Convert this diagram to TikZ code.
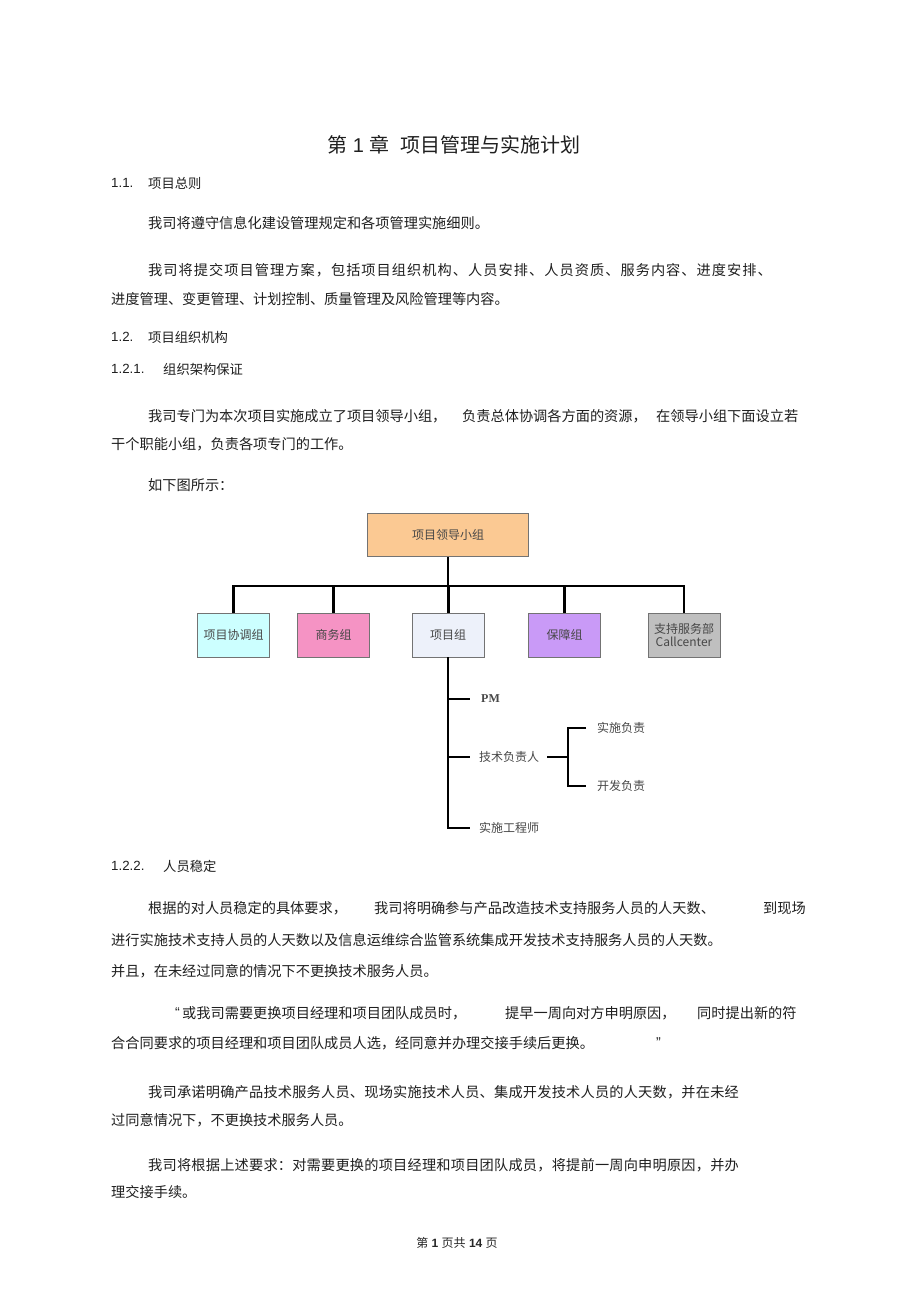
\documentclass[tikz,border=0pt]{standalone}
\usepackage{fontspec}
\setmainfont{Liberation Sans}
\newfontfamily\cjk{Noto Sans CJK SC}
\newfontfamily\pmserif{Liberation Serif}
\usetikzlibrary{positioning}

\definecolor{leadfill}{HTML}{FBC993}
\definecolor{coordfill}{HTML}{CCFFFF}
\definecolor{bizfill}{HTML}{F593C4}
\definecolor{projfill}{HTML}{EDF1FA}
\definecolor{guardfill}{HTML}{C99AF7}
\definecolor{callfill}{HTML}{BFBFBF}

\begin{document}
\begin{tikzpicture}[x=1pt, y=-1pt,
  bodytext/.style={anchor=west, inner sep=0pt, text=black!88, font=\cjk\fontsize{14.2}{17}\selectfont},
  headtext/.style={anchor=west, inner sep=0pt, text=black!88, font=\fontsize{13.3}{16}\selectfont},
  orgbox/.style={draw=black!55, line width=0.8pt, minimum width=72pt, minimum height=44pt,
    inner sep=1pt, align=center, text=black!72, font=\cjk\fontsize{12}{13.5}\selectfont},
  treetext/.style={anchor=west, inner sep=0pt, text=black!72, font=\cjk\fontsize{12}{13}\selectfont},
  trunk/.style={line width=2.6pt},
  twig/.style={line width=2pt}]
  \useasboundingbox (0,0) rectangle (920,1303);
  \fill[white] (0,0) rectangle (920,1303);

  % Chapter title
  \node[anchor=west, inner sep=0pt, text=black!88, font=\fontsize{20}{24}\selectfont] (title) at (327,145)
    {{\cjk 第} 1 {\cjk 章}\ \ {\cjk 项目管理与实施计划}};

  % 1.1
  \node[headtext] (s11) at (111,183) {1.1.};
  \node[headtext, font=\cjk\fontsize{13.3}{16}\selectfont] (s11t) at (148,183) {项目总则};
  \node[bodytext] (p1) at (148,223) {我司将遵守信息化建设管理规定和各项管理实施细则。};
  \node[bodytext] (p2a) at (148,270) {\addfontfeature{LetterSpace=7.3}我司将提交项目管理方案，包括项目组织机构、人员安排、人员资质、服务内容、进度安排、};
  \node[bodytext] (p2b) at (111,299) {进度管理、变更管理、计划控制、质量管理及风险管理等内容。};

  % 1.2 and 1.2.1
  \node[headtext] (s12) at (111,337) {1.2.};
  \node[headtext, font=\cjk\fontsize{13.3}{16}\selectfont] (s12t) at (148,337) {项目组织机构};
  \node[headtext] (s121) at (111,369) {1.2.1.};
  \node[headtext, font=\cjk\fontsize{13.3}{16}\selectfont] (s121t) at (163,369) {组织架构保证};
  \node[bodytext] (p3a) at (148,416) {我司专门为本次项目实施成立了项目领导小组，};
  \node[bodytext] (p3b) at (462,416) {负责总体协调各方面的资源，};
  \node[bodytext] (p3c) at (656,416) {在领导小组下面设立若};
  \node[bodytext] (p3d) at (111,444) {干个职能小组，负责各项专门的工作。};
  \node[bodytext] (p4) at (148,485) {如下图所示：};

  % Org chart: leading group and the five groups
  \node[orgbox, fill=leadfill, minimum width=161pt, minimum height=43pt] (lead) at (448,535) {项目领导小组};
  \node[orgbox, fill=coordfill] (coord) at (233.5,635) {项目协调组};
  \node[orgbox, fill=bizfill] (biz) at (333.6,635) {商务组};
  \node[orgbox, fill=projfill] (proj) at (448.2,635) {项目组};
  \node[orgbox, fill=guardfill] (guard) at (564.7,635) {保障组};
  \node[orgbox, fill=callfill] (call) at (684,635) {支持服务部\\Callcenter};

  \coordinate (bus) at (0,586);
  \draw[trunk] (lead.south) -- (lead.south |- bus);
  \draw[trunk] (coord.north) -- (coord.north |- bus) -- (call.north |- bus) -- (call.north);
  \foreach \g in {biz,proj,guard}
    \draw[trunk] (\g.north) -- (\g.north |- bus);

  % Members of the project group
  \node[treetext, font=\pmserif\bfseries\fontsize{12}{13}\selectfont] (pm) at (481,699) {PM};
  \node[treetext] (tech) at (479,757) {技术负责人};
  \node[treetext] (eng) at (479,828) {实施工程师};
  \node[treetext] (impl) at (597,728) {实施负责};
  \node[treetext] (dev) at (597,786) {开发负责};

  \coordinate (tick) at (470,0);
  \coordinate (fork) at (568,757);
  \draw[twig] (proj.south) -- (proj.south |- eng) -- (tick |- eng);
  \draw[twig] (proj.south |- pm) -- (tick |- pm);
  \draw[twig] (proj.south |- tech) -- (tick |- tech);
  \draw[twig] ([xshift=8pt]tech.east) -- (fork);
  \draw[twig] ([xshift=-11pt]impl.west) -- (fork |- impl) -- (fork |- dev) -- ([xshift=-11pt]dev.west);

  % 1.2.2
  \node[headtext] (s122) at (111,866) {1.2.2.};
  \node[headtext, font=\cjk\fontsize{13.3}{16}\selectfont] (s122t) at (163,866) {人员稳定};
  \node[bodytext] (p5a) at (148,908) {根据的对人员稳定的具体要求，};
  \node[bodytext] (p5b) at (374,908) {我司将明确参与产品改造技术支持服务人员的人天数、};
  \node[bodytext] (p5c) at (763,908) {到现场};
  \node[bodytext] (p5d) at (111,940) {进行实施技术支持人员的人天数以及信息运维综合监管系统集成开发技术支持服务人员的人天数。};
  \node[bodytext] (p5e) at (111,971) {并且，在未经过同意的情况下不更换技术服务人员。};

  \node[bodytext, font=\fontsize{14.2}{17}\selectfont] (q1) at (175,1013) {“};
  \node[bodytext] (p6a) at (182,1013) {或我司需要更换项目经理和项目团队成员时，};
  \node[bodytext] (p6b) at (505,1013) {提早一周向对方申明原因，};
  \node[bodytext] (p6c) at (697,1013) {同时提出新的符};
  \node[bodytext] (p6d) at (111,1043) {合合同要求的项目经理和项目团队成员人选，经同意并办理交接手续后更换。};
  \node[bodytext, font=\fontsize{14.2}{17}\selectfont] (q2) at (656,1043) {”};

  \node[bodytext] (p7a) at (148,1092) {\addfontfeature{LetterSpace=1.5}我司承诺明确产品技术服务人员、现场实施技术人员、集成开发技术人员的人天数，并在未经};
  \node[bodytext] (p7b) at (111,1120) {过同意情况下，不更换技术服务人员。};
  \node[bodytext] (p8a) at (148,1165) {\addfontfeature{LetterSpace=1.5}我司将根据上述要求：对需要更换的项目经理和项目团队成员，将提前一周向申明原因，并办};
  \node[bodytext] (p8b) at (111,1192) {理交接手续。};

  % Page footer
  \node[inner sep=0pt, text=black!85, font=\fontsize{12}{14}\selectfont] (foot) at (457,1243)
    {{\cjk 第} \textbf{1} {\cjk 页共} \textbf{14} {\cjk 页}};
\end{tikzpicture}
\end{document}
